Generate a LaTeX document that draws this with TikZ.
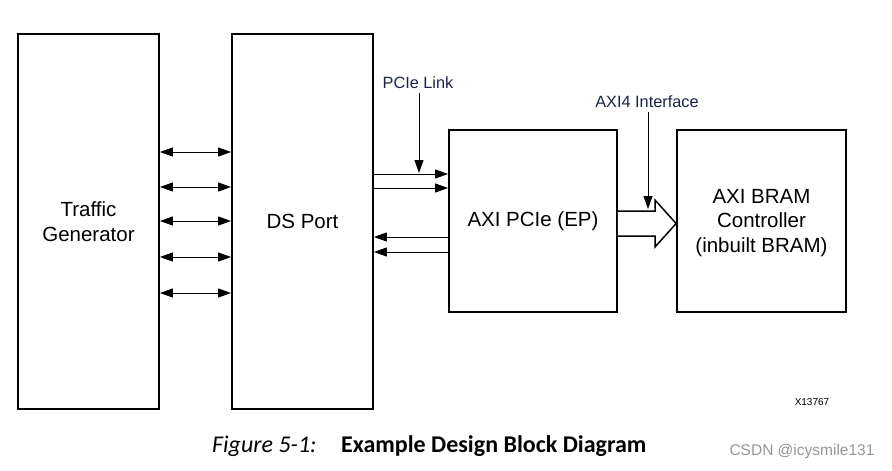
\documentclass[tikz,border=0pt]{standalone}
\usepackage{fontspec}
\setmainfont{Liberation Sans}
\newfontfamily\capfont{Carlito}
\usepackage{tikz}
\usetikzlibrary{arrows.meta,calc,positioning}
\definecolor{labelnavy}{RGB}{25,35,70}
\definecolor{markgray}{RGB}{150,150,150}

\tikzset{
  block/.style={draw, line width=1.8pt, align=center, font=\fontsize{20.5}{24.5}\selectfont},
  link/.style={line width=1pt, -{Triangle[length=13pt,width=9pt]}},
  dlink/.style={line width=1pt, {Triangle[length=13pt,width=9pt]}-{Triangle[length=13pt,width=9pt]}},
  tag/.style={text=labelnavy, font=\fontsize{16.3}{19}\selectfont}
}

\begin{document}
\begin{tikzpicture}[x=1pt, y=-1pt]
  \useasboundingbox (0,0) rectangle (892,471);

  % Blocks
  \node[block, minimum width=141pt, minimum height=375pt] (tg) at (88.5,221.5) {Traffic\\Generator};
  \node[block, minimum width=141pt, minimum height=375pt] (ds) at (302.5,221.5) {DS Port};
  \node[block, minimum width=168pt, minimum height=182pt] (ep) at (533,221) {AXI PCIe (EP)};
  \node[block, minimum width=169pt, minimum height=182pt] (bram) at (761.5,221) {};
  \node[align=center, font=\fontsize{20.5}{24.5}\selectfont] (bramtext) at (761.5,223) {AXI BRAM\\Controller\\(inbuilt BRAM)};

  % Traffic generator <-> DS port
  \foreach \y in {152,187,221,257,293}
    \draw[dlink] (tg.east |- 0,\y) -- (ds.west |- 0,\y);

  % PCIe link
  \foreach \y in {174,188}
    \draw[link] (ds.east |- 0,\y) -- (ep.west |- 0,\y);
  \foreach \y in {237,252}
    \draw[link] (ep.west |- 0,\y) -- (ds.east |- 0,\y);
  \node[tag] (pcie) at (418,83) {PCIe Link};
  \coordinate (pcietip) at (419,173);
  \draw[link] (pcie.south -| pcietip) -- (pcietip);

  % AXI4 interface (hollow arrow)
  \coordinate (headtop) at (655,200);
  \coordinate (headbot) at (655,247);
  \draw[line width=1.5pt, fill=white, line join=miter]
    (ep.east |- 0,211) -- (headtop |- 0,211) -- (headtop)
    -- (bram.west |- 0,223.5) -- (headbot) -- (headbot |- 0,236)
    -- (ep.east |- 0,236);
  \node[tag] (axi) at (647,102) {AXI4 Interface};
  \coordinate (axitip) at (648,209);
  \draw[link] (axi.south -| axitip) -- (axitip);

  % Figure number
  \node[font=\fontsize{10}{12}\selectfont] (xnum) at (812,402) {X13767};

  % Caption
  \node[anchor=west, inner sep=0pt, font=\capfont\fontsize{24}{28}\selectfont] (capnum) at (212,446)
    {\textit{Figure 5-1:}};
  \node[anchor=west, inner sep=0pt, font=\capfont\fontsize{24}{28}\selectfont] (captext) at (341,446)
    {\textbf{Example Design Block Diagram}};

  % Watermark
  \node[text=markgray, font=\fontsize{15.5}{18}\selectfont] (mark) at (802,451) {CSDN @icysmile131};
\end{tikzpicture}
\end{document}
